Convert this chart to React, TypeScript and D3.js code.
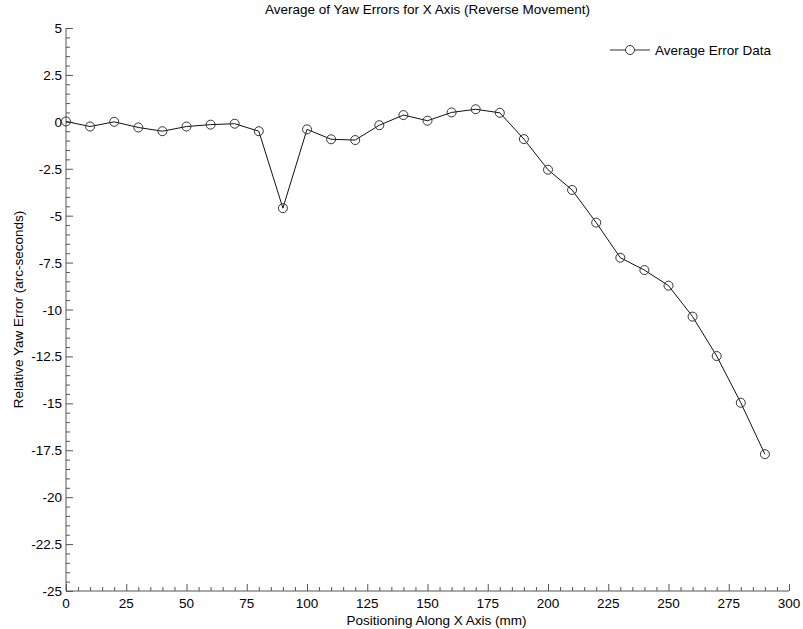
import React, { useEffect, useRef } from 'react'
import * as d3 from 'd3'

const positions = [0, 10, 20, 30, 40, 50, 60, 70, 80, 90, 100, 110, 120, 130, 140, 150, 160, 170, 180, 190, 200, 210, 220, 230, 240, 250, 260, 270, 280, 290]
const yawErrors = [0.02, -0.25, 0.0, -0.3, -0.5, -0.25, -0.15, -0.1, -0.5, -4.6, -0.4, -0.93, -0.97, -0.18, 0.36, 0.06, 0.5, 0.67, 0.48, -0.92, -2.55, -3.63, -5.37, -7.24, -7.9, -8.73, -10.38, -12.48, -14.97, -17.71]
const xTicks = [0, 25, 50, 75, 100, 125, 150, 175, 200, 225, 250, 275, 300]
const yTicks = [5, 2.5, 0, -2.5, -5, -7.5, -10, -12.5, -15, -17.5, -20, -22.5, -25]

const W = 803
const H = 629

export default function App() {
  const ref = useRef<SVGSVGElement>(null)

  useEffect(() => {
    if (!ref.current) return
    const svg = d3.select(ref.current)
    svg.selectAll('*').remove()

    const left = 66, right = 789, top = 28, bottom = 591
    const x = d3.scaleLinear().domain([0, 300]).range([left, right])
    const y = d3.scaleLinear().domain([-25, 5]).range([bottom, top])
    const font = 'Arial, "Liberation Sans", sans-serif'
    const fs = '13.5px'
    const axisColor = '#555'

    svg.append('rect').attr('width', W).attr('height', H).attr('fill', '#fff')

    // Axes lines
    svg.append('line').attr('x1', left).attr('x2', right).attr('y1', bottom).attr('y2', bottom)
      .attr('stroke', axisColor)
    svg.append('line').attr('x1', left).attr('x2', left).attr('y1', top).attr('y2', bottom)
      .attr('stroke', axisColor)

    // X ticks (inward)
    d3.range(0, 301, 5).forEach(v => {
      const major = v % 25 === 0
      svg.append('line')
        .attr('x1', x(v) + 0.5).attr('x2', x(v) + 0.5)
        .attr('y1', bottom).attr('y2', bottom - (major ? 7 : 4))
        .attr('stroke', axisColor)
    })
    xTicks.forEach(v => {
      svg.append('text')
        .attr('x', x(v)).attr('y', bottom + 17)
        .attr('text-anchor', 'middle')
        .style('font-family', font).style('font-size', fs).style('fill', '#000')
        .text(v)
    })

    // Y ticks (inward)
    d3.range(-25, 5.01, 0.5).forEach(v => {
      const major = Math.abs(v / 2.5 - Math.round(v / 2.5)) < 1e-6
      svg.append('line')
        .attr('x1', left).attr('x2', left + (major ? 7 : 4))
        .attr('y1', y(v) + 0.5).attr('y2', y(v) + 0.5)
        .attr('stroke', axisColor)
    })
    yTicks.forEach(v => {
      svg.append('text')
        .attr('x', left - 4).attr('y', y(v) + 5)
        .attr('text-anchor', 'end')
        .style('font-family', font).style('font-size', fs).style('fill', '#000')
        .text(v)
    })

    // Title and axis labels
    svg.append('text')
      .attr('x', (left + right) / 2).attr('y', 14)
      .attr('text-anchor', 'middle')
      .style('font-family', font).style('font-size', fs)
      .text('Average of Yaw Errors for X Axis (Reverse Movement)')
    svg.append('text')
      .attr('x', (left + right) / 2 + 9).attr('y', 625)
      .attr('text-anchor', 'middle')
      .style('font-family', font).style('font-size', fs)
      .text('Positioning Along X Axis (mm)')
    svg.append('text')
      .attr('transform', `translate(23, ${(top + bottom) / 2}) rotate(-90)`)
      .attr('text-anchor', 'middle')
      .style('font-family', font).style('font-size', fs)
      .text('Relative Yaw Error (arc-seconds)')

    // Data line
    const data = positions.map((p, i) => [p, yawErrors[i]] as [number, number])
    const line = d3.line<[number, number]>().x(d => x(d[0])).y(d => y(d[1]))
    svg.append('path').datum(data)
      .attr('d', line)
      .attr('fill', 'none').attr('stroke', '#111').attr('stroke-width', 1)

    svg.selectAll('circle.pt').data(data).enter().append('circle')
      .attr('class', 'pt')
      .attr('cx', d => x(d[0])).attr('cy', d => y(d[1]))
      .attr('r', 4.5)
      .attr('fill', 'none').attr('stroke', '#333').attr('stroke-width', 1)

    // Legend
    const ly = 50
    svg.append('line').attr('x1', 610).attr('x2', 650).attr('y1', ly).attr('y2', ly)
      .attr('stroke', '#333')
    svg.append('circle').attr('cx', 630).attr('cy', ly).attr('r', 4.5)
      .attr('fill', '#fff').attr('stroke', '#333')
    svg.append('text')
      .attr('x', 655).attr('y', ly + 5)
      .style('font-family', font).style('font-size', fs)
      .text('Average Error Data')
  }, [])

  return (
    <svg ref={ref} width={W} height={H} style={{ position: 'absolute', left: 0, top: 0 }} />
  )
}
